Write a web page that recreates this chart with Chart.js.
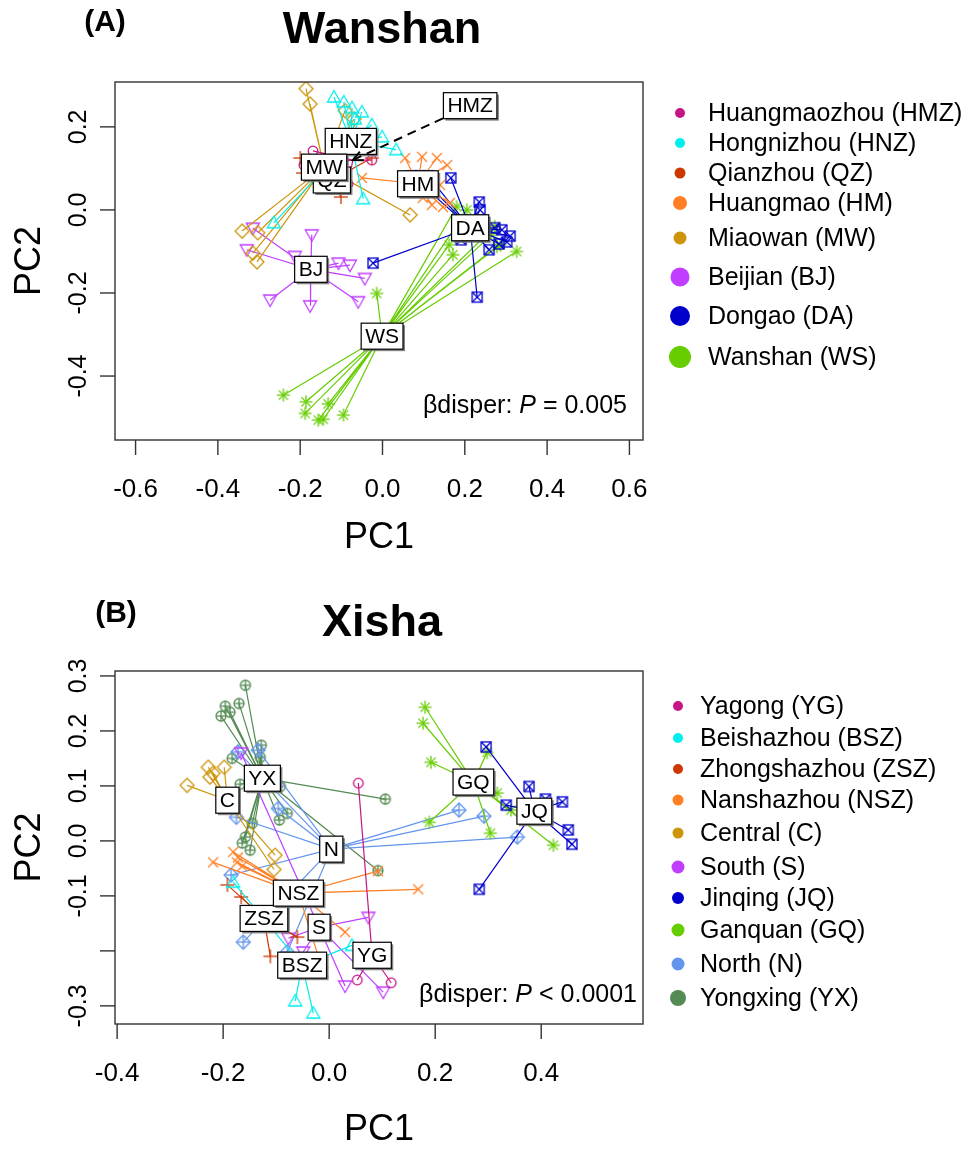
<!DOCTYPE html>
<html>
<head>
<meta charset="utf-8">
<script src="https://cdn.jsdelivr.net/npm/chart.js@4.4.1/dist/chart.umd.min.js"></script>
<style>
  html, body { margin: 0; padding: 0; background: #fff; }
  #pagina { position: relative; width: 970px; height: 1149px; }
  .painel { position: absolute; left: 0; width: 970px; }
</style>
</head>
<body>
<div id="pagina">
  <div class="painel" style="top:0;height:574px"><canvas id="grafA" width="970" height="574"></canvas></div>
  <div class="painel" style="top:574px;height:575px"><canvas id="grafB" width="970" height="575"></canvas></div>
</div>
<script>
// dados: painel A (Wanshan)
const gruposA = ["HMZ", "HNZ", "QZ", "HM", "MW", "BJ", "DA", "WS"];
const legendaA = ["Huangmaozhou (HMZ)", "Hongnizhou (HNZ)", "Qianzhou (QZ)", "Huangmao (HM)",
  "Miaowan (MW)", "Beijian (BJ)", "Dongao (DA)", "Wanshan (WS)"];
const centroXA = [-0.072, -0.077, -0.123, 0.086, -0.142, -0.174, 0.213, -0.001];
const centroYA = [0.120, 0.165, 0.072, 0.063, 0.103, -0.143, -0.043, -0.304];
const rotuloHMZ = [0.213, 0.251]; // rótulo deslocado, com seta até o centróide

const A_HMZ = [[-0.169, 0.142], [-0.026, 0.120], [-0.191, 0.108], [-0.084, 0.063]];
const A_HNZ = [[-0.118, 0.272], [-0.094, 0.260], [-0.074, 0.246], [-0.050, 0.236], [-0.067, 0.219],
  [-0.026, 0.205], [-0.001, 0.176], [0.033, 0.145], [-0.047, 0.027], [-0.264, -0.031]];
const A_QZ = [[-0.101, 0.031], [-0.193, 0.089], [-0.026, 0.125], [-0.200, 0.125]];
const A_HM = [[0.055, 0.125], [0.096, 0.128], [0.132, 0.125], [0.157, 0.108], [-0.050, 0.077],
  [0.079, 0.041], [0.098, 0.029], [0.120, 0.012], [0.147, 0.007], [0.164, 0.017], [0.140, 0.060]];
const A_MW = [[-0.186, 0.292], [-0.176, 0.255], [-0.091, 0.239], [-0.069, 0.219], [0.067, -0.012],
  [-0.341, -0.051], [-0.303, -0.055], [-0.315, -0.104], [-0.305, -0.125]];
const A_BJ = [[-0.315, -0.044], [-0.330, -0.096], [-0.213, -0.112], [-0.172, -0.060], [-0.107, -0.128],
  [-0.079, -0.133], [-0.043, -0.165], [-0.059, -0.221], [-0.176, -0.231], [-0.273, -0.217]];
const A_DA = [[0.072, 0.082], [0.091, 0.082], [0.111, 0.082], [0.166, 0.077], [0.235, 0.019],
  [0.237, 0.000], [0.290, -0.048], [0.302, -0.077], [0.283, -0.082], [0.259, -0.096],
  [0.191, -0.072], [0.230, -0.210], [-0.023, -0.128], [0.273, -0.043], [0.310, -0.063]];
const A_WS = [[-0.014, -0.201], [-0.241, -0.446], [-0.186, -0.462], [-0.188, -0.490], [-0.132, -0.467],
  [-0.156, -0.506], [-0.144, -0.504], [-0.095, -0.494], [0.180, 0.008], [0.205, 0.000],
  [0.273, -0.040], [0.278, -0.088], [0.286, -0.084], [0.326, -0.100], [0.162, -0.084],
  [0.171, -0.108], [0.265, -0.060]];

const ticksXA = [-0.6, -0.4, -0.2, 0, 0.2, 0.4, 0.6];
const rotulosXA = ["-0.6", "-0.4", "-0.2", "0.0", "0.2", "0.4", "0.6"];
const ticksYA = [-0.4, -0.2, 0, 0.2];
const rotulosYA = ["-0.4", "-0.2", "0.0", "0.2"];

// dados: painel B (Xisha)
const gruposB = ["YG", "BSZ", "ZSZ", "NSZ", "C", "S", "JQ", "GQ", "N", "YX"];
const legendaB = ["Yagong (YG)", "Beishazhou (BSZ)", "Zhongshazhou (ZSZ)", "Nanshazhou (NSZ)",
  "Central (C)", "South (S)", "Jinqing (JQ)", "Ganquan (GQ)", "North (N)", "Yongxing (YX)"];
const centroXB = [0.081, -0.051, -0.123, -0.058, -0.192, -0.019, 0.387, 0.272, 0.004, -0.126];
const centroYB = [-0.208, -0.226, -0.141, -0.095, 0.074, -0.157, 0.054, 0.107, -0.015, 0.114];

const B_YG = [[0.055, 0.105], [0.053, -0.253], [0.117, -0.258]];
const B_BSZ = [[-0.181, -0.075], [-0.064, -0.291], [-0.030, -0.313], [0.043, -0.190]];
const B_ZSZ = [[-0.192, -0.080], [-0.166, -0.102], [-0.060, -0.175], [-0.111, -0.210]];
const B_NSZ = [[-0.219, -0.039], [-0.181, -0.020], [-0.172, -0.030], [-0.174, -0.039], [-0.164, -0.046],
  [0.030, -0.166], [-0.011, -0.239], [0.168, -0.088], [0.092, -0.055]];
const B_C = [[-0.268, 0.101], [-0.228, 0.134], [-0.219, 0.123], [-0.225, 0.116], [-0.198, 0.134],
  [-0.102, -0.026], [-0.104, -0.052]];
const B_S = [[-0.166, 0.160], [0.074, -0.139], [-0.077, -0.177], [-0.049, -0.202], [0.030, -0.264],
  [0.102, -0.275]];
const B_JQ = [[0.296, 0.171], [0.377, 0.099], [0.408, 0.076], [0.440, 0.071], [0.334, 0.065],
  [0.451, 0.020], [0.458, -0.006], [0.283, -0.088]];
const B_GQ = [[0.181, 0.243], [0.177, 0.214], [0.192, 0.143], [0.298, 0.161], [0.317, 0.087],
  [0.343, 0.056], [0.189, 0.034], [0.304, 0.014], [0.423, -0.008]];
const B_N = [[-0.172, 0.162], [-0.134, 0.165], [-0.096, 0.059], [-0.175, 0.043], [-0.185, -0.062],
  [-0.162, -0.184], [-0.079, -0.202], [0.245, 0.056], [0.292, 0.045], [0.355, 0.007]];
const B_YX = [[-0.158, 0.283], [-0.170, 0.250], [-0.196, 0.245], [-0.204, 0.227], [-0.187, 0.234],
  [-0.128, 0.174], [-0.130, 0.152], [-0.183, 0.150], [-0.168, 0.103], [-0.092, 0.099],
  [0.106, 0.076], [-0.079, 0.050], [-0.094, 0.038], [-0.145, 0.032], [-0.158, 0.007],
  [-0.164, -0.004], [-0.149, -0.017], [0.092, -0.054]];

const ticksXB = [-0.4, -0.2, 0, 0.2, 0.4];
const rotulosXB = ["-0.4", "-0.2", "0.0", "0.2", "0.4"];
const ticksYB = [-0.3, -0.2, -0.1, 0, 0.1, 0.2, 0.3];
const rotulosYB = ["-0.3", "", "-0.1", "0.0", "0.1", "0.2", "0.3"];

// estilos
const FONTE = '"Liberation Sans", Arial, Helvetica, sans-serif';
const coresA = ["#C71585", "#00EEEE", "#CD3700", "#FF7F24", "#CD950C", "#BF3EFF", "#0000CD", "#66CD00"];
const pchA = [1, 2, 3, 4, 5, 6, 7, 8];
const raioLegA = [5, 5, 5.5, 7, 6.5, 9.5, 10, 11];
const yLegA = [113, 143, 173, 203, 238, 277, 316, 357];
const coresB = ["#C71585", "#00EEEE", "#CD3700", "#FF7F24", "#CD950C", "#BF3EFF", "#0000CD", "#66CD00",
  "#6495ED", "#548B54"];
const pchB = [1, 2, 3, 4, 5, 6, 7, 8, 9, 10];
const raioLegB = [5, 5, 5, 5.5, 5.5, 6.5, 6, 6.5, 6.5, 8];
const yLegB = [132, 164, 195, 226, 259, 293, 324, 356, 390, 424];

// funções:
function marcador(pch, cor) {
  const c = document.createElement("canvas");
  c.width = 20;
  c.height = 20;
  const g = c.getContext("2d");
  g.strokeStyle = cor;
  g.lineWidth = 1.3;
  g.translate(10, 10);
  const seg = (x1, y1, x2, y2) => { g.beginPath(); g.moveTo(x1, y1); g.lineTo(x2, y2); g.stroke(); };
  const poli = (pts) => {
    g.beginPath();
    g.moveTo(pts[0][0], pts[0][1]);
    pts.slice(1).forEach(p => g.lineTo(p[0], p[1]));
    g.closePath();
    g.stroke();
  };
  const circ = (r) => { g.beginPath(); g.arc(0, 0, r, 0, Math.PI * 2); g.stroke(); };
  switch (pch) {
    case 1: circ(4.8); break;
    case 2: poli([[0, -6.5], [6.5, 5], [-6.5, 5]]); break;
    case 3: seg(-7, 0, 7, 0); seg(0, -7, 0, 7); break;
    case 4: seg(-5, -5, 5, 5); seg(-5, 5, 5, -5); break;
    case 5: poli([[0, -7], [7, 0], [0, 7], [-7, 0]]); break;
    case 6: poli([[0, 6.5], [6.5, -5], [-6.5, -5]]); break;
    case 7: g.strokeRect(-5, -5, 10, 10); seg(-5, -5, 5, 5); seg(-5, 5, 5, -5); break;
    case 8: seg(-6.5, 0, 6.5, 0); seg(0, -6.5, 0, 6.5); seg(-4.6, -4.6, 4.6, 4.6); seg(-4.6, 4.6, 4.6, -4.6); break;
    case 9: poli([[0, -7], [7, 0], [0, 7], [-7, 0]]); seg(-7, 0, 7, 0); seg(0, -7, 0, 7); break;
    case 10: circ(5); seg(-5, 0, 5, 0); seg(0, -5, 0, 5); break;
  }
  return c;
}

function montarDatasets(cx, cy, pontos, cores, pchs) {
  const ds = [];
  pontos.forEach((pts, i) => {
    const raios = [];
    pts.forEach(([x, y]) => raios.push({ x: cx[i], y: cy[i] }, { x, y }));
    ds.push({
      data: raios,
      showLine: true,
      borderColor: cores[i],
      borderWidth: 1.2,
      pointRadius: 0,
    });
    ds.push({
      data: pts.map(([x, y]) => ({ x, y })),
      showLine: false,
      pointStyle: marcador(pchs[i], cores[i]),
      pointRadius: 5,
    });
  });
  return ds;
}

function caixaRotulo(ctx, txt, x, y) {
  ctx.font = `21px ${FONTE}`;
  const w = ctx.measureText(txt).width + 8;
  const h = 26;
  ctx.fillStyle = "rgba(110,110,110,0.85)";
  ctx.fillRect(x - w / 2 + 2, y - h / 2 + 2, w, h);
  ctx.fillStyle = "#ffffff";
  ctx.fillRect(x - w / 2, y - h / 2, w, h);
  ctx.strokeStyle = "#000";
  ctx.lineWidth = 1.2;
  ctx.strokeRect(x - w / 2, y - h / 2, w, h);
  ctx.fillStyle = "#000";
  ctx.textAlign = "center";
  ctx.textBaseline = "middle";
  ctx.fillText(txt, x, y + 1);
}

function pluginExtras(cfg) {
  return {
    id: "extras" + cfg.letra,
    afterDatasetsDraw(chart) {
      const ctx = chart.ctx, xs = chart.scales.x, ys = chart.scales.y;
      ctx.save();
      const iSeta = cfg.seta ? cfg.seta[0] : -1;
      cfg.grupos.forEach((g, i) => {
        if (i === iSeta) return;
        caixaRotulo(ctx, g, xs.getPixelForValue(cfg.cx[i]), ys.getPixelForValue(cfg.cy[i]));
      });
      if (cfg.seta) {
        const [i, lx, ly] = cfg.seta;
        const x0 = xs.getPixelForValue(lx), y0 = ys.getPixelForValue(ly);
        const x1 = xs.getPixelForValue(cfg.cx[i]), y1 = ys.getPixelForValue(cfg.cy[i]);
        ctx.strokeStyle = "#000";
        ctx.lineWidth = 2;
        ctx.setLineDash([9, 6]);
        ctx.beginPath(); ctx.moveTo(x0, y0); ctx.lineTo(x1, y1); ctx.stroke();
        ctx.setLineDash([]);
        const ang = Math.atan2(y1 - y0, x1 - x0);
        ctx.beginPath();
        ctx.moveTo(x1 - 11 * Math.cos(ang - 0.45), y1 - 11 * Math.sin(ang - 0.45));
        ctx.lineTo(x1, y1);
        ctx.lineTo(x1 - 11 * Math.cos(ang + 0.45), y1 - 11 * Math.sin(ang + 0.45));
        ctx.stroke();
        caixaRotulo(ctx, cfg.grupos[i], x0, y0);
      }
      ctx.restore();
    },
    afterDraw(chart) {
      const ctx = chart.ctx, a = chart.chartArea, xs = chart.scales.x, ys = chart.scales.y;
      ctx.save();
      // caixa do gráfico
      ctx.strokeStyle = "#333";
      ctx.lineWidth = 1.4;
      ctx.strokeRect(a.left, a.top, a.right - a.left, a.bottom - a.top);
      // eixos
      ctx.fillStyle = "#000";
      ctx.font = `26px ${FONTE}`;
      ctx.textAlign = "center";
      ctx.textBaseline = "middle";
      cfg.ticksX.forEach((v, i) => {
        const px = xs.getPixelForValue(v);
        ctx.beginPath(); ctx.moveTo(px, a.bottom); ctx.lineTo(px, a.bottom + 15); ctx.stroke();
        ctx.fillText(cfg.rotX[i], px, a.bottom + 50);
      });
      ctx.font = `25px ${FONTE}`;
      cfg.ticksY.forEach((v, i) => {
        const py = ys.getPixelForValue(v);
        ctx.beginPath(); ctx.moveTo(a.left - 15, py); ctx.lineTo(a.left, py); ctx.stroke();
        ctx.save();
        ctx.translate(79, py);
        ctx.rotate(-Math.PI / 2);
        ctx.fillText(cfg.rotY[i], 0, 0);
        ctx.restore();
      });
      ctx.font = `36px ${FONTE}`;
      ctx.fillText("PC1", (a.left + a.right) / 2, a.bottom + cfg.dPC1);
      ctx.save();
      ctx.translate(30, (a.top + a.bottom) / 2);
      ctx.rotate(-Math.PI / 2);
      ctx.fillText("PC2", 0, 0);
      ctx.restore();
      // títulos
      ctx.font = `bold 45px ${FONTE}`;
      ctx.fillText(cfg.titulo, 382, cfg.yTitulo);
      ctx.font = `bold 30px ${FONTE}`;
      ctx.fillText(`(${cfg.letra})`, cfg.xLetra, cfg.yLetra);
      // βdisper
      ctx.font = `25px ${FONTE}`;
      const t1 = "βdisper: ", t3 = cfg.pTexto;
      const w1 = ctx.measureText(t1).width, w3 = ctx.measureText(t3).width;
      ctx.font = `italic 25px ${FONTE}`;
      const w2 = ctx.measureText("P").width;
      let x = cfg.xDisper - (w1 + w2 + w3);
      ctx.textAlign = "left";
      ctx.font = `25px ${FONTE}`;
      ctx.fillText(t1, x, cfg.yDisper);
      ctx.font = `italic 25px ${FONTE}`;
      ctx.fillText("P", x + w1, cfg.yDisper);
      ctx.font = `25px ${FONTE}`;
      ctx.fillText(t3, x + w1 + w2, cfg.yDisper);
      // legenda
      cfg.legenda.forEach((txt, i) => {
        ctx.fillStyle = cfg.cores[i];
        ctx.beginPath();
        ctx.arc(cfg.xLegPonto, cfg.yLeg[i], cfg.raioLeg[i], 0, Math.PI * 2);
        ctx.fill();
        ctx.fillStyle = "#000";
        ctx.fillText(txt, cfg.xLegTexto, cfg.yLeg[i] + 1);
      });
      ctx.restore();
    },
  };
}

function criarGrafico(canvas, cfg) {
  return new Chart(canvas, {
    type: "scatter",
    data: { datasets: montarDatasets(cfg.cx, cfg.cy, cfg.pontos, cfg.cores, cfg.pchs) },
    options: {
      responsive: false,
      animation: false,
      events: [],
      layout: { padding: { left: 0, top: cfg.topo, right: 970 - 643, bottom: 0 } },
      plugins: { legend: { display: false }, tooltip: { enabled: false } },
      scales: {
        x: {
          type: "linear",
          min: cfg.xMin,
          max: cfg.xMax,
          grid: { display: false },
          border: { display: false },
          ticks: { display: false },
          afterFit: (s) => { s.height = cfg.altura - cfg.base; },
        },
        y: {
          type: "linear",
          min: cfg.yMin,
          max: cfg.yMax,
          grid: { display: false },
          border: { display: false },
          ticks: { display: false },
          afterFit: (s) => { s.width = 115; },
        },
      },
    },
    plugins: [pluginExtras(cfg)],
  });
}

// gráficos:
criarGrafico(document.getElementById("grafA"), {
  letra: "A", titulo: "Wanshan", yTitulo: 31, xLetra: 105, yLetra: 23,
  grupos: gruposA, legenda: legendaA, cx: centroXA, cy: centroYA,
  pontos: [A_HMZ, A_HNZ, A_QZ, A_HM, A_MW, A_BJ, A_DA, A_WS],
  cores: coresA, pchs: pchA, raioLeg: raioLegA, yLeg: yLegA, xLegPonto: 680, xLegTexto: 708,
  seta: [0, rotuloHMZ[0], rotuloHMZ[1]],
  ticksX: ticksXA, rotX: rotulosXA, ticksY: ticksYA, rotY: rotulosYA,
  xMin: -0.650, xMax: 0.633, yMin: -0.554, yMax: 0.308,
  topo: 82, base: 440, altura: 574, dPC1: 98,
  pTexto: " = 0.005", xDisper: 627, yDisper: 406,
});

criarGrafico(document.getElementById("grafB"), {
  letra: "B", titulo: "Xisha", yTitulo: 50, xLetra: 116, yLetra: 40,
  grupos: gruposB, legenda: legendaB, cx: centroXB, cy: centroYB,
  pontos: [B_YG, B_BSZ, B_ZSZ, B_NSZ, B_C, B_S, B_JQ, B_GQ, B_N, B_YX],
  cores: coresB, pchs: pchB, raioLeg: raioLegB, yLeg: yLegB, xLegPonto: 678, xLegTexto: 700,
  seta: null,
  ticksX: ticksXB, rotX: rotulosXB, ticksY: ticksYB, rotY: rotulosYB,
  xMin: -0.404, xMax: 0.592, yMin: -0.333, yMax: 0.309,
  topo: 97, base: 450, altura: 575, dPC1: 106,
  pTexto: " < 0.0001", xDisper: 637, yDisper: 421,
});
</script>
</body>
</html>
